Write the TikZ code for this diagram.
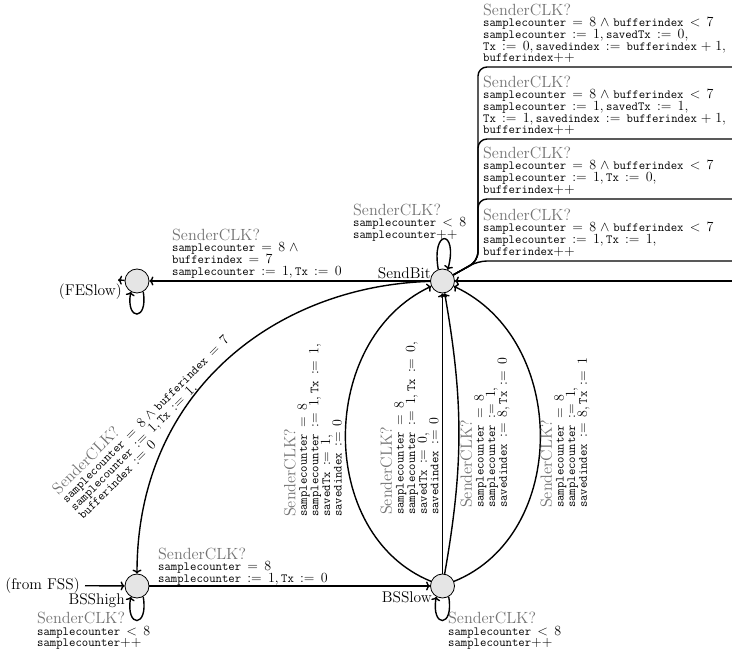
\RequirePackage{fix-cm}
\documentclass[tikz,border=0pt]{standalone}
\usetikzlibrary{arrows.meta}
\thickmuskip=8mu plus 3mu\relax
\medmuskip=5mu plus 2mu\relax
\lineskiplimit=-20pt\relax
\newcommand{\tv}[1]{\mbox{\fontsize{12.4}{11.6}\selectfont\ttfamily #1}}
\newcommand{\clk}{{\fontencoding{OT1}\fontfamily{cmr}\fontsize{16.2}{11.6}\selectfont\color{black!55}SenderCLK?}}
\tikzset{
  state/.style={circle, draw, line width=0.8pt, fill=black!10, minimum size=24pt, inner sep=0pt},
  edge/.style={line width=1.4pt, -{To[length=4pt,width=9pt]}},
  plain/.style={line width=1.4pt},
  lbl/.style={font=\fontsize{14}{11.6}\selectfont, align=left, inner sep=0pt, anchor=north west},
  nlbl/.style={font=\fontencoding{OT1}\fontfamily{cmr}\fontsize{15.5}{18}\selectfont, inner sep=0pt},
}
\begin{document}
\begin{tikzpicture}[x=1pt,y=1pt]
\useasboundingbox (0,0) rectangle (732,-655);

% states
\node[state] (SendBit) at (442.5,-281) {};
\node[state] (FESlow) at (137,-281) {};
\node[state] (BSShigh) at (137,-586) {};
\node[state] (BSSlow) at (442.5,-586) {};

% state names
\node[nlbl, anchor=east] (nSendBit) at (431,-273) {SendBit};
\node[nlbl, anchor=east] (nFESlow) at (122,-292) {(FESlow)};
\node[nlbl, anchor=east] (nBSShigh) at (125,-601) {BSShigh};
\node[nlbl, anchor=east] (nBSSlow) at (432,-597) {BSSlow};
\node[nlbl, anchor=east] (fromFSS) at (80,-585.5) {(from FSS)};

% free ends
\coordinate (feout) at (118,-280);
\coordinate (rin) at (732,-281);
\coordinate (o1) at (732,-67);
\coordinate (o2) at (732,-139);
\coordinate (o3) at (732,-199);
\coordinate (o4) at (732,-261);
\coordinate (kink) at (478,-261);

% connectors
\draw[edge] (SendBit) -- (FESlow);
\draw[edge] (FESlow) -- (feout);
\draw[edge, shorten <=5pt] (fromFSS) -- (BSShigh);
\draw[edge] (BSShigh) -- (BSSlow);
\draw[edge] (SendBit) .. controls (275,-286) and (137,-392) .. (BSShigh);
\draw[edge] (BSSlow) -- (SendBit);
\draw[edge] (BSSlow) to[bend right=10] (SendBit);
\draw[edge] (BSSlow) .. controls (317,-535) and (317,-340) .. (SendBit);
\draw[edge] (BSSlow) .. controls (569,-535) and (569,-340) .. (SendBit);
\draw[edge] (rin) -- (SendBit);
\draw[plain, rounded corners=9pt] (SendBit) -- (kink) |- (o1);
\draw[plain, rounded corners=9pt] (SendBit) -- (kink) |- (o2);
\draw[plain, rounded corners=9pt] (SendBit) -- (kink) |- (o3);
\draw[plain, rounded corners=9pt] (SendBit) -- (kink) -- (o4);

% self loops
\draw[edge] (SendBit.110) .. controls +(100:42pt) and +(75:42pt) .. (SendBit.65);
\draw[edge] (FESlow.-60) .. controls +(-80:30pt) and +(-100:30pt) .. (FESlow.-120);
\draw[edge] (BSShigh.-60) .. controls +(-80:32pt) and +(-100:32pt) .. (BSShigh.-120);
\draw[edge] (BSSlow.-60) .. controls +(-80:32pt) and +(-100:32pt) .. (BSSlow.-120);

% edge labels, right side
\node[lbl] (l1) at (483,-3.8) {\clk\\
$\tv{samplecounter} = 8 \wedge \tv{bufferindex} < 7$\\
$\tv{samplecounter} := 1, \tv{savedTx} := 0,$\\
$\tv{Tx} := 0, \tv{savedindex} := \tv{bufferindex} + 1,$\\
$\tv{bufferindex}{+}{+}$};
\node[lbl] (l2) at (483,-75.8) {\clk\\
$\tv{samplecounter} = 8 \wedge \tv{bufferindex} < 7$\\
$\tv{samplecounter} := 1, \tv{savedTx} := 1,$\\
$\tv{Tx} := 1, \tv{savedindex} := \tv{bufferindex} + 1,$\\
$\tv{bufferindex}{+}{+}$};
\node[lbl] (l3) at (483,-146.8) {\clk\\
$\tv{samplecounter} = 8 \wedge \tv{bufferindex} < 7$\\
$\tv{samplecounter} := 1, \tv{Tx} := 0,$\\
$\tv{bufferindex}{+}{+}$};
\node[lbl] (l4) at (483,-208.8) {\clk\\
$\tv{samplecounter} = 8 \wedge \tv{bufferindex} < 7$\\
$\tv{samplecounter} := 1, \tv{Tx} := 1,$\\
$\tv{bufferindex}{+}{+}$};

% other labels
\node[lbl] (lfe) at (172,-228.8) {\clk\\
$\tv{samplecounter} = 8 \wedge{}$\\
$\tv{bufferindex} = 7$\\
$\tv{samplecounter} := 1, \tv{Tx} := 0$};
\node[lbl] (lbss) at (158,-547.8) {\clk\\
$\tv{samplecounter} = 8$\\
$\tv{samplecounter} := 1, \tv{Tx} := 0$};
\node[lbl] (lsb) at (353,-203.8) {\clk\\
$\tv{samplecounter} < 8$\\
$\tv{samplecounter}{+}{+}$};
\node[lbl] (lbh) at (37,-612.1) {\clk\\
$\tv{samplecounter} < 8$\\
$\tv{samplecounter}{+}{+}$};
\node[lbl] (lbl) at (448,-612.1) {\clk\\
$\tv{samplecounter} < 8$\\
$\tv{samplecounter}{+}{+}$};
\node[lbl, rotate=45] (larc) at (50.4,-487.1) {\clk\\
$\tv{samplecounter} = 8 \wedge \tv{bufferindex} = 7$\\
$\tv{samplecounter} := 1, \tv{Tx} := 1,$\\
$\tv{bufferindex} := 0$};
\node[lbl, rotate=90] (lA) at (283.8,-517) {\clk\\
$\tv{samplecounter} = 8$\\
$\tv{samplecounter} := 1, \tv{Tx} := 1,$\\
$\tv{savedTx} := 1,$\\
$\tv{savedindex} := 0$};
\node[lbl, rotate=90] (lB) at (380.5,-515) {\clk\\
$\tv{samplecounter} = 8$\\
$\tv{samplecounter} := 1, \tv{Tx} := 0,$\\
$\tv{savedTx} := 0,$\\
$\tv{savedindex} := 0$};
\node[lbl, rotate=90] (lC) at (460.5,-508) {\clk\\
$\tv{samplecounter} = 8$\\
$\tv{samplecounter} := 1,$\\
$\tv{savedindex} := 8, \tv{Tx} := 0$};
\node[lbl, rotate=90] (lD) at (540.5,-508) {\clk\\
$\tv{samplecounter} = 8$\\
$\tv{samplecounter} := 1,$\\
$\tv{savedindex} := 8, \tv{Tx} := 1$};
\end{tikzpicture}
\end{document}
